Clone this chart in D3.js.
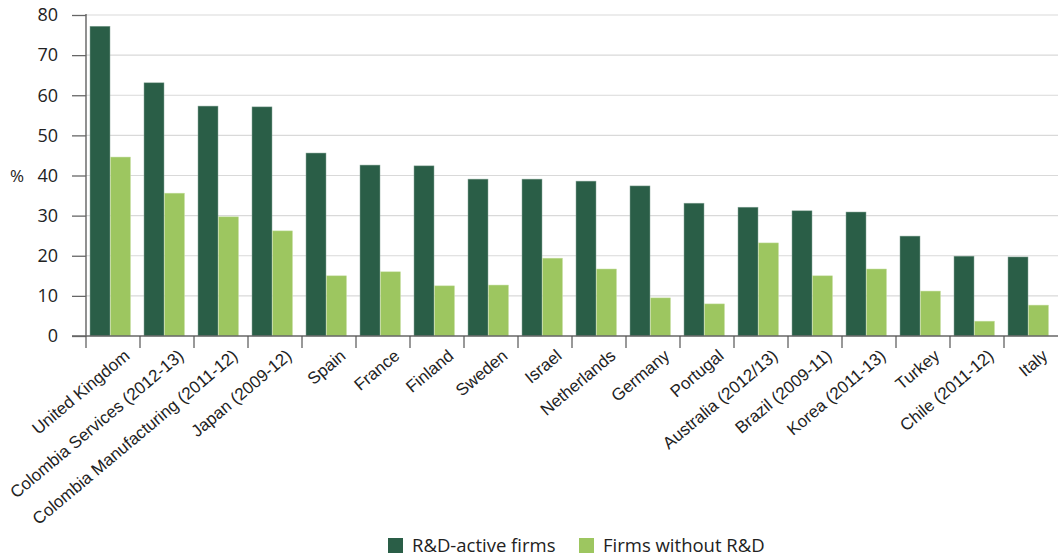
<!DOCTYPE html>
<html><head><meta charset="utf-8">
<script src="https://cdn.jsdelivr.net/npm/d3@7"></script>
<style>body{margin:0;background:#fff}</style>
</head><body>
<svg id="c" width="1058" height="556"></svg>
<script>
const categories = ["United Kingdom","Colombia Services (2012-13)","Colombia Manufacturing (2011-12)","Japan (2009-12)","Spain","France","Finland","Sweden","Israel","Netherlands","Germany","Portugal","Australia (2012/13)","Brazil (2009-11)","Korea (2011-13)","Turkey","Chile (2011-12)","Italy"];
const rdActive = [77.2,63.1,57.3,57.1,45.6,42.6,42.4,39.1,39.1,38.6,37.4,33.1,32.1,31.2,30.9,24.9,19.9,19.7];
const withoutRD = [44.6,35.6,29.7,26.2,15.0,16.0,12.5,12.7,19.4,16.7,9.5,8.0,23.2,15.0,16.7,11.2,3.7,7.7];
const seriesNames = ["R&D-active firms","Firms without R&D"];
const colors = ["#2a5e47","#9dc660"];
const yTicks = [0,10,20,30,40,50,60,70,80];

const svg = d3.select("#c");
const x0 = 86, x1 = 1058, yTop = 15, yBot = 336;
const x = d3.scaleBand().domain(categories).range([x0,x1]).padding(0);
const y = d3.scaleLinear().domain([0,80]).range([yBot,yTop]);
const bw = 20;

// gridlines
svg.append("g").selectAll("line").data(yTicks.filter(d=>d>0)).join("line")
  .attr("x1",x0).attr("x2",x1).attr("y1",d=>y(d)).attr("y2",d=>y(d))
  .attr("stroke","#d9d9d9").attr("stroke-width",1.2);

// bars
const g = svg.append("g");
categories.forEach((c,i)=>{
  const bx = x(c)+4;
  g.append("rect").attr("x",bx).attr("width",bw).attr("y",y(rdActive[i])).attr("height",y(0)-y(rdActive[i]))
    .attr("fill",colors[0]).attr("stroke","#8aa89a").attr("stroke-width",0.5);
  g.append("rect").attr("x",bx+bw+0.5).attr("width",bw).attr("y",y(withoutRD[i])).attr("height",y(0)-y(withoutRD[i]))
    .attr("fill",colors[1]).attr("stroke","#c9e0a8").attr("stroke-width",0.5);
});

// y axis
const ya = svg.append("g").attr("transform",`translate(${x0},0)`)
  .call(d3.axisLeft(y).tickValues(yTicks).tickSize(14).tickPadding(14));
ya.select(".domain").attr("stroke","#555").attr("stroke-width",1.3).attr("d",`M0,${yTop-1}V${yBot}`);
ya.selectAll(".tick line").attr("stroke","#666").attr("stroke-width",1.3);
ya.selectAll("text").attr("font-family","Open Sans, sans-serif").attr("font-size",18).attr("fill","#222");

svg.append("text").attr("x",10).attr("y",y(40)+6).text("%")
  .attr("font-family","Open Sans, sans-serif").attr("font-size",17).attr("fill","#222");

// x axis
svg.append("line").attr("x1",72).attr("x2",x1).attr("y1",yBot).attr("y2",yBot).attr("stroke","#666").attr("stroke-width",1.5);
svg.append("g").selectAll("line").data(categories).join("line")
  .attr("x1",d=>x(d)).attr("x2",d=>x(d)).attr("y1",yBot).attr("y2",yBot+12)
  .attr("stroke","#555").attr("stroke-width",1.2);
svg.append("g").selectAll("text").data(categories).join("text")
  .attr("transform",d=>`translate(${x(d)+x.bandwidth()/2+14},${yBot+17}) rotate(-40)`)
  .attr("text-anchor","end").attr("dy","0.35em")
  .attr("font-family","Liberation Sans, Arial, sans-serif").attr("font-size",17).attr("fill","#222")
  .text(d=>d);

// legend
const leg = [{n:seriesNames[0],c:colors[0],x:388},{n:seriesNames[1],c:colors[1],x:579}];
leg.forEach(l=>{
  svg.append("rect").attr("x",l.x).attr("y",538).attr("width",15).attr("height",15).attr("fill",l.c);
  svg.append("text").attr("x",l.x+24).attr("y",552).text(l.n)
    .attr("font-family","Open Sans, sans-serif").attr("font-size",18.5).attr("fill","#222");
});
</script>
</body></html>
